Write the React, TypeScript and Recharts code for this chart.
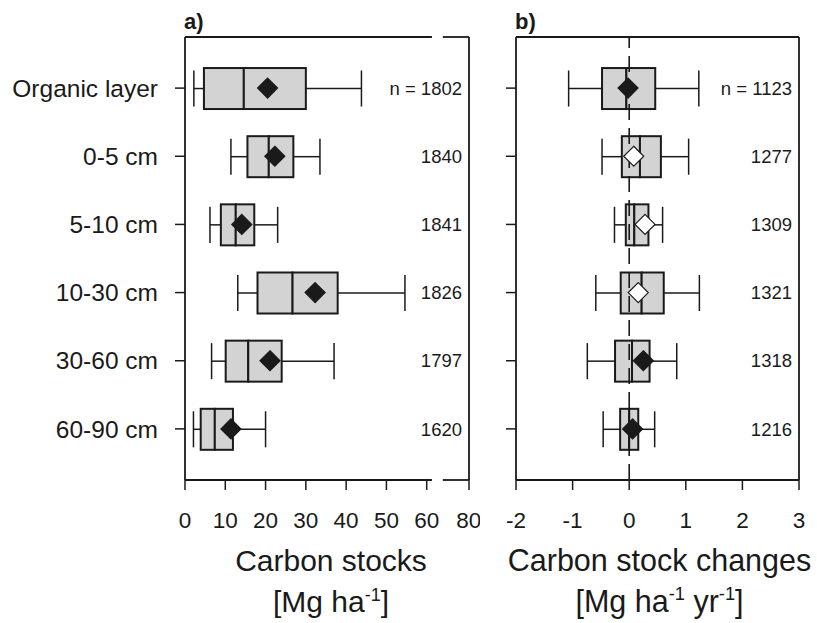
import React from 'react';
import { ComposedChart, Bar, Line, XAxis, YAxis, ReferenceLine } from 'recharts';

const FONT = '"Liberation Sans", Arial, Helvetica, sans-serif';
const INK = '#1a1a1a';
const BOX_FILL = '#d3d3d3';

const depths = ['Organic layer', '0-5 cm', '5-10 cm', '10-30 cm', '30-60 cm', '60-90 cm'];

// a) carbon stocks [Mg ha-1]
const stockMin = [2.2, 11.4, 6.2, 13.1, 6.6, 2.1];
const stockQ1 = [4.7, 15.5, 8.9, 18.0, 10.1, 3.9];
const stockMedian = [14.6, 20.8, 12.6, 26.7, 15.7, 7.4];
const stockQ3 = [30.0, 26.9, 17.2, 37.9, 24.0, 11.9];
const stockMax = [43.8, 33.5, 23.0, 54.6, 37.0, 20.0];
const stockMean = [20.5, 22.3, 14.1, 32.3, 21.1, 11.4];
const stockN = [1802, 1840, 1841, 1826, 1797, 1620];
const stockFilled = [true, true, true, true, true, true];
const stockTicks = [0, 10, 20, 30, 40, 50, 60];

// b) carbon stock changes [Mg ha-1 yr-1]
const changeMin = [-1.07, -0.48, -0.26, -0.59, -0.74, -0.46];
const changeQ1 = [-0.48, -0.13, -0.06, -0.15, -0.25, -0.16];
const changeMedian = [-0.05, 0.19, 0.09, 0.22, 0.05, 0.0];
const changeQ3 = [0.46, 0.56, 0.34, 0.61, 0.36, 0.16];
const changeMax = [1.23, 1.05, 0.59, 1.24, 0.84, 0.45];
const changeMean = [-0.02, 0.08, 0.28, 0.16, 0.25, 0.06];
const changeN = [1123, 1277, 1309, 1321, 1318, 1216];
const changeFilled = [true, false, false, false, true, true];
const changeTicks = [-2, -1, 0, 1, 2, 3];

// broken axis in panel a: 0-60 linear, then a gap, then the 80 tick
const BREAK_START = 61.3;
const BREAK_END = 64.0;
const AXIS_END = 70.5;

const ROW_PAD = 0.75;
const Y_TOP = 1 - ROW_PAD;
const Y_BOTTOM = depths.length + ROW_PAD;
const rowTicks = depths.map((_, i) => i + 1);

function buildRows(min: number[], q1: number[], med: number[], q3: number[], max: number[], mean: number[], n: number[], filled: boolean[]) {
  return depths.map((name, i) => ({
    name,
    pos: i + 1,
    base: min[i],
    whiskerLow: q1[i] - min[i],
    lowerBox: med[i] - q1[i],
    upperBox: q3[i] - med[i],
    whiskerHigh: max[i] - q3[i],
    mean: mean[i],
    n: n[i],
    filled: filled[i],
  }));
}

const stockRows = buildRows(stockMin, stockQ1, stockMedian, stockQ3, stockMax, stockMean, stockN, stockFilled);
const changeRows = buildRows(changeMin, changeQ1, changeMedian, changeQ3, changeMax, changeMean, changeN, changeFilled);

const Empty = () => <g />;

const WhiskerLow = (p: any) => {
  const { x, y, width, height } = p;
  const cy = y + height / 2;
  const cap = height * 0.44;
  return (
    <g>
      <line x1={x} x2={x + width} y1={cy} y2={cy} stroke={INK} strokeWidth={1.5} />
      <line x1={x} x2={x} y1={cy - cap} y2={cy + cap} stroke={INK} strokeWidth={1.5} />
    </g>
  );
};

const WhiskerHigh = (p: any) => {
  const { x, y, width, height } = p;
  const cy = y + height / 2;
  const cap = height * 0.44;
  return (
    <g>
      <line x1={x} x2={x + width} y1={cy} y2={cy} stroke={INK} strokeWidth={1.5} />
      <line x1={x + width} x2={x + width} y1={cy - cap} y2={cy + cap} stroke={INK} strokeWidth={1.5} />
    </g>
  );
};

const BoxPart = (p: any) => {
  const { x, y, width, height } = p;
  return <rect x={x} y={y} width={width} height={height} fill={BOX_FILL} stroke={INK} strokeWidth={2} />;
};

const MeanDiamond = (p: any) => {
  const { cx, cy, payload, index } = p;
  if (cx == null || cy == null) return <g key={`m-${index}`} />;
  const r = 10;
  return (
    <path
      key={`m-${index}`}
      d={`M${cx},${cy - r} L${cx + r},${cy} L${cx},${cy + r} L${cx - r},${cy} Z`}
      fill={payload.filled ? INK : '#ffffff'}
      stroke={INK}
      strokeWidth={1.2}
    />
  );
};

const CountTick = (p: any) => {
  const { x, y, payload, counts } = p;
  const i = payload.value - 1;
  const label = i === 0 ? `n = ${counts[i]}` : `${counts[i]}`;
  return (
    <text x={x - 7} y={y} dy="0.36em" textAnchor="end" fill={INK} fontSize={18.5} fontFamily={FONT}>
      {label}
    </text>
  );
};

const AxisTitle = (p: any) => {
  const { viewBox, title, unit, fontSize, dx } = p;
  if (!viewBox) return null;
  const cx = viewBox.x + viewBox.width / 2 + dx;
  return (
    <g>
      <text x={cx} y={viewBox.y + 91} textAnchor="middle" fill={INK} fontSize={fontSize} fontFamily={FONT}>
        {title}
      </text>
      <text x={cx} y={viewBox.y + 132} textAnchor="middle" fill={INK} fontSize={fontSize} fontFamily={FONT}>
        {unit.map((part: string, i: number) =>
          i % 2 === 1 ? (
            <tspan key={i} fontSize={fontSize * 0.6} dy={-fontSize * 0.38}>
              {part}
            </tspan>
          ) : (
            <tspan key={i} dy={i === 0 ? 0 : fontSize * 0.38}>
              {part}
            </tspan>
          )
        )}
      </text>
    </g>
  );
};

function renderBoxes() {
  return [
    <Bar key="base" dataKey="base" stackId="box" barSize={41} shape={<Empty />} isAnimationActive={false} />,
    <Bar key="wl" dataKey="whiskerLow" stackId="box" barSize={41} shape={<WhiskerLow />} isAnimationActive={false} />,
    <Bar key="lb" dataKey="lowerBox" stackId="box" barSize={41} shape={<BoxPart />} isAnimationActive={false} />,
    <Bar key="ub" dataKey="upperBox" stackId="box" barSize={41} shape={<BoxPart />} isAnimationActive={false} />,
    <Bar key="wh" dataKey="whiskerHigh" stackId="box" barSize={41} shape={<WhiskerHigh />} isAnimationActive={false} />,
  ];
}

const frameLine = { stroke: INK, strokeWidth: 1.8 };
const tickLine = { stroke: INK, strokeWidth: 1.5 };

function StocksPanel() {
  return (
    <ComposedChart
      width={480}
      height={623}
      layout="vertical"
      data={stockRows}
      margin={{ top: 37, right: 0, left: 0, bottom: 0 }}
    >
      <XAxis
        type="number"
        domain={[0, AXIS_END]}
        ticks={[...stockTicks, AXIS_END]}
        tickFormatter={(v: number) => (v === AXIS_END ? '80' : String(v))}
        allowDataOverflow
        axisLine={false}
        tickLine={tickLine}
        tickSize={10}
        tickMargin={22}
        tick={{ fill: INK, fontSize: 22.5, fontFamily: FONT }}
        height={143}
        label={<AxisTitle title="Carbon stocks" unit={['[Mg ha', '-1', ']']} fontSize={30} dx={4} />}
      />
      <YAxis
        type="number"
        dataKey="pos"
        domain={[Y_TOP, Y_BOTTOM]}
        ticks={rowTicks}
        allowDataOverflow
        width={185}
        axisLine={frameLine}
        tickLine={tickLine}
        tickSize={10}
        tickMargin={17}
        tickFormatter={(v: number) => depths[v - 1]}
        tick={{ fill: INK, fontSize: 24.5, fontFamily: FONT }}
      />
      <YAxis
        yAxisId="n"
        orientation="right"
        type="number"
        dataKey="pos"
        domain={[Y_TOP, Y_BOTTOM]}
        ticks={rowTicks}
        allowDataOverflow
        width={11}
        axisLine={frameLine}
        tickLine={false}
        tickSize={0}
        tickMargin={0}
        tick={(props: any) => <CountTick {...props} counts={stockN} />}
      />
      <ReferenceLine segment={[{ x: 0, y: Y_TOP }, { x: BREAK_START, y: Y_TOP }]} {...frameLine} ifOverflow="visible" />
      <ReferenceLine segment={[{ x: BREAK_END, y: Y_TOP }, { x: AXIS_END, y: Y_TOP }]} {...frameLine} ifOverflow="visible" />
      <ReferenceLine segment={[{ x: 0, y: Y_BOTTOM }, { x: BREAK_START, y: Y_BOTTOM }]} {...frameLine} ifOverflow="visible" />
      <ReferenceLine segment={[{ x: BREAK_END, y: Y_BOTTOM }, { x: AXIS_END, y: Y_BOTTOM }]} {...frameLine} ifOverflow="visible" />
      {renderBoxes()}
      <Line
        dataKey="mean"
        stroke="none"
        dot={(props: any) => <MeanDiamond {...props} />}
        activeDot={false}
        isAnimationActive={false}
      />
    </ComposedChart>
  );
}

function ChangesPanel() {
  return (
    <ComposedChart
      width={327}
      height={623}
      layout="vertical"
      data={changeRows}
      margin={{ top: 37, right: 0, left: 0, bottom: 0 }}
    >
      <XAxis
        type="number"
        domain={[changeTicks[0], changeTicks[changeTicks.length - 1]]}
        ticks={changeTicks}
        allowDataOverflow
        axisLine={frameLine}
        tickLine={tickLine}
        tickSize={10}
        tickMargin={22}
        tick={{ fill: INK, fontSize: 22.5, fontFamily: FONT }}
        height={143}
        label={<AxisTitle title="Carbon stock changes" unit={['[Mg ha', '-1', ' yr', '-1', ']']} fontSize={30.5} dx={2} />}
      />
      <YAxis
        type="number"
        dataKey="pos"
        domain={[Y_TOP, Y_BOTTOM]}
        ticks={rowTicks}
        allowDataOverflow
        width={26}
        axisLine={frameLine}
        tickLine={tickLine}
        tickSize={10}
        tickFormatter={() => ''}
      />
      <YAxis
        yAxisId="n"
        orientation="right"
        type="number"
        dataKey="pos"
        domain={[Y_TOP, Y_BOTTOM]}
        ticks={rowTicks}
        allowDataOverflow
        width={18}
        axisLine={frameLine}
        tickLine={false}
        tickSize={0}
        tickMargin={0}
        tick={(props: any) => <CountTick {...props} counts={changeN} />}
      />
      <ReferenceLine y={Y_TOP} {...frameLine} ifOverflow="visible" />
      {renderBoxes()}
      <ReferenceLine x={0} stroke={INK} strokeWidth={1.6} strokeDasharray="16 8" />
      <Line
        dataKey="mean"
        stroke="none"
        dot={(props: any) => <MeanDiamond {...props} />}
        activeDot={false}
        isAnimationActive={false}
      />
    </ComposedChart>
  );
}

export default function App() {
  const panelLabel: React.CSSProperties = {
    position: 'absolute',
    top: 11,
    fontSize: 22,
    lineHeight: '22px',
    fontWeight: 'bold',
    fontFamily: FONT,
    color: INK,
  };
  return (
    <div style={{ position: 'absolute', left: 0, top: 0, width: 817, height: 623, background: '#fff', fontFamily: FONT }}>
      <div style={{ position: 'absolute', left: 0, top: 0 }}>
        <StocksPanel />
      </div>
      <div style={{ position: 'absolute', left: 490, top: 0 }}>
        <ChangesPanel />
      </div>
      <span style={{ ...panelLabel, left: 184 }}>a)</span>
      <span style={{ ...panelLabel, left: 515 }}>b)</span>
    </div>
  );
}
